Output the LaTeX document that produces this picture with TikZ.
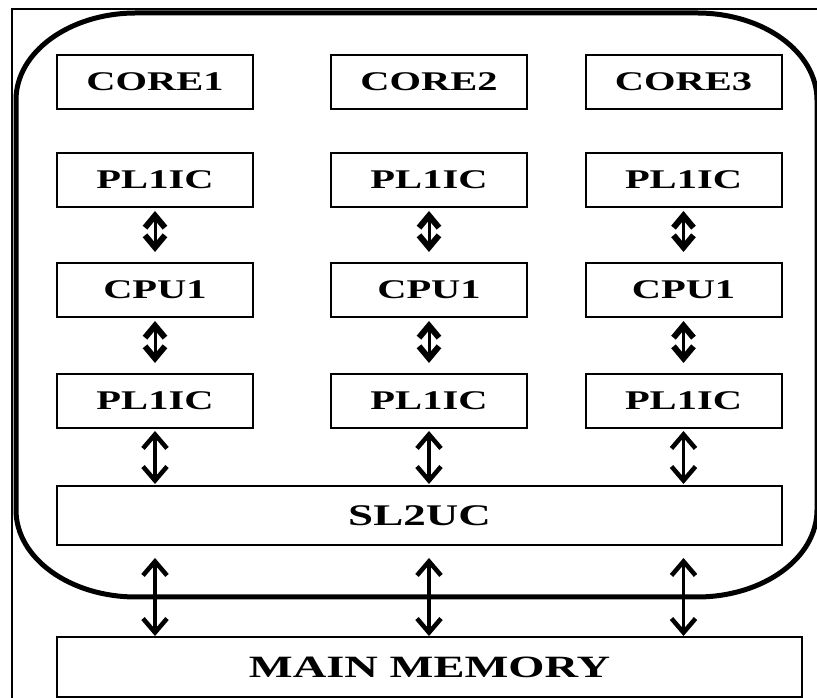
\documentclass[tikz,border=0pt]{standalone}
\usepackage{fontspec}
\newfontfamily\unitfont[FakeStretch=1.5]{Liberation Serif}
\usetikzlibrary{arrows.meta}
\tikzset{unit/.style = {draw, line width=2pt, inner sep=0pt, minimum width=196pt, minimum height=54pt,
                        font=\unitfont\bfseries\fontsize{27}{30}\selectfont}}
\tikzset{short/.style = {line width=3pt, {Straight Barb[length=12pt,width=20pt,line width=6pt]}-{Straight Barb[length=12pt,width=20pt,line width=6pt]}}}
\tikzset{link/.style = {line width=3.5pt, {Straight Barb[length=14pt,width=24pt,line width=4.5pt]}-{Straight Barb[length=14pt,width=24pt,line width=4.5pt]}}}

\begin{document}
\begin{tikzpicture}[x=1pt,y=1pt]
      \clip (0,0) rectangle (817,698);
      % frame round everything, cut at the page edge
      \draw [line width=2pt] (12,-20) rectangle (840,689);
      % the chip
      \draw [line width=5pt] (16,598) arc[start angle=180, end angle=90, x radius=120, y radius=87]
            -- (697,685) arc[start angle=90, end angle=0, x radius=120, y radius=87]
            -- (817,188) arc[start angle=0, end angle=-90, x radius=120, y radius=87]
            -- (136,101) arc[start angle=270, end angle=180, x radius=120, y radius=87] -- cycle;
      \foreach \n/\x in {1/155, 2/429, 3/683.5} {
        \node [unit] (core\n) at (\x,616) {CORE\n};
        \node [unit] (upic\n) at (\x,518) {PL1IC};
        \node [unit] (cpu\n) at (\x,408) {CPU1};
        \node [unit] (loic\n) at (\x,297) {PL1IC};
      }
      \node [unit, minimum width=725pt, minimum height=59pt, font=\unitfont\bfseries\fontsize{30}{32}\selectfont] (sl2) at (419.5,182.5) {SL2UC};
      \node [unit, minimum width=745pt, minimum height=60pt, font=\unitfont\bfseries\fontsize{31}{33}\selectfont] (mem) at (429.5,31) {MAIN MEMORY};
      \foreach \n in {1,2,3} {
        \draw [short, shorten <=3pt, shorten >=10pt] (upic\n) -- (cpu\n);
        \draw [short, shorten <=3pt, shorten >=10pt] (cpu\n) -- (loic\n);
        \draw [link, shorten <=2pt, shorten >=1pt] (loic\n) -- (loic\n |- sl2.north);
        \draw [link, shorten <=12pt] (sl2.south -| core\n) -- (mem.north -| core\n);
      }
    \end{tikzpicture}
\end{document}
